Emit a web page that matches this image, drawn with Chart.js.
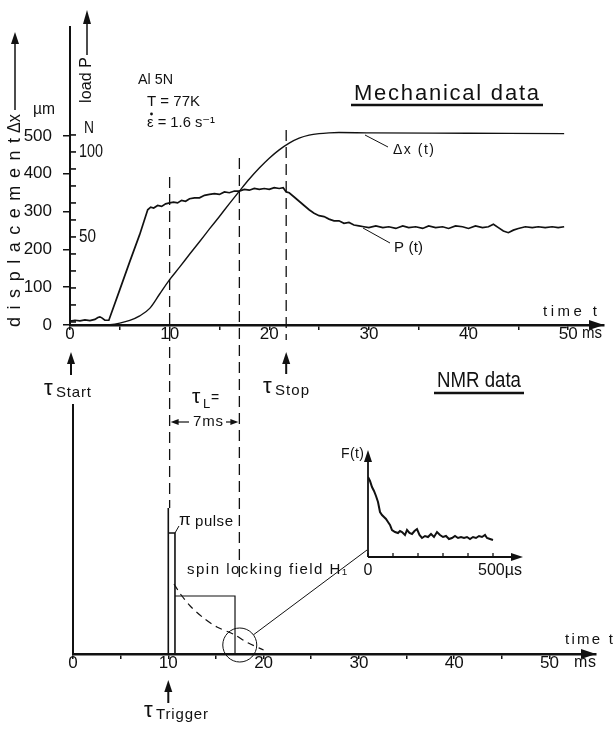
<!DOCTYPE html>
<html>
<head>
<meta charset="utf-8">
<title>Mechanical and NMR data</title>
<script src="https://cdn.jsdelivr.net/npm/chart.js@4.4.1/dist/chart.umd.min.js"></script>
<style>
  body { margin: 0; background: #fff; }
  #figure { position: relative; width: 614px; height: 731px; }
  #figure canvas { position: absolute; left: 0; top: 0; }
</style>
</head>
<body>
<div id="figure">
  <canvas id="mechanical" width="614" height="731"></canvas>
  <canvas id="nmr" width="614" height="731"></canvas>
  <canvas id="fid" width="614" height="731"></canvas>
</div>
<script>
const FONT = '"Liberation Sans Narrow", "Liberation Sans", "DejaVu Sans", sans-serif';
const INK = '#111';

// mechanical data (top panel), time in ms
const dispTime = [0, 3, 4, 5, 6, 7, 8, 9, 10, 11, 12, 13, 14, 15, 16, 17, 18, 19, 20, 21, 22, 23, 24, 25, 26, 27, 30, 40, 49.6];
const dispValues = [0, 0, 1, 5, 12, 24, 44, 82, 120, 153, 187, 220, 254, 287, 321, 354, 386, 415, 441, 463, 481, 494, 502, 506, 508, 509, 508, 507, 506];

const loadTime = [0, 0.5, 1, 1.5, 2, 2.5, 2.8, 3, 3.2, 3.5,
  3.9, 5, 6, 7, 7.8, 8.1, 8.4, 8.8, 9.2, 9.6,
  10, 10.4, 10.8, 11.2, 11.6, 12, 12.5, 13, 13.5, 14,
  14.5, 15, 15.5, 16, 16.5, 17, 17.5, 18, 18.5, 19,
  19.5, 20, 20.5, 21, 21.4, 21.7, 22, 22.5, 23, 23.5,
  24, 24.5, 25, 25.5, 26, 26.5, 27, 27.5, 28, 28.5,
  29, 29.5, 30, 30.7, 31.4, 32, 32.7, 33.4, 34, 34.7,
  35.4, 36, 36.7, 37.4, 38, 38.7, 39.4, 40, 40.7, 41.4,
  42, 42.5, 43, 43.5, 44, 44.5, 45, 45.7, 46.4, 47,
  47.7, 48.4, 49, 49.6];
const loadValues = [0.5, 1, 0.6, 1.2, 0.8, 1.5, 2.6, 3, 2.4, 1,
  1, 19, 35.5, 51.5, 66, 67.5, 67, 68.5, 68, 69.5,
  70, 70.5, 70, 71.5, 71, 72.5, 73, 73, 74.5, 75,
  75.5, 75, 76.5, 76, 77, 77, 78, 77.5, 78.5, 78,
  78.5, 78, 79, 78.5, 79, 76.5, 76, 73.5, 71, 68.5,
  66, 64, 62.5, 62, 60.5, 59.5, 59.5, 58, 58.5, 57,
  56.5, 56, 55.5, 56.5, 55.5, 56, 55, 56.5, 55.5, 56,
  55, 56.5, 55.5, 56, 55, 56.5, 56, 55, 56.5, 55.5,
  56, 57.5, 55.5, 53.5, 52.5, 54, 55, 56, 55.5, 56,
  55.5, 56, 55.5, 56];

const timeTicks = [0, 5, 10, 15, 20, 25, 30, 35, 40, 45, 50];
const dispTicks = [0, 100, 200, 300, 400, 500];
const loadTicks = [0, 10, 20, 30, 40, 50, 60, 70, 80, 90, 100, 110];
const loadLabels = [50, 100];
const markerTimes = [10, 17, 21.7];

// NMR data (bottom panel), level in arbitrary units
const pulseTime = [10, 10, 10, 10.7, 10.7];
const pulseLevel = [0, 146, 121, 121, 0];
const lockTime = [10.7, 17, 17];
const lockLevel = [58, 58, 0];
const decayTime = [10.6, 11.2, 12.3, 13.7, 15.1, 16.8, 18.4, 20.0];
const decayLevel = [70, 61, 48, 36, 27, 20, 11, 4];
const spotTime = [17.5];
const spotLevel = [9];

// F(t) inset, time in µs
const fidTime = [0, 8, 16, 24, 32, 40, 48, 56, 64, 72,
  80, 88, 96, 108, 120, 128, 136, 148, 156, 166,
  176, 186, 196, 206, 216, 228, 240, 252, 264, 276,
  288, 300, 312, 324, 336, 348, 360, 372, 384, 396,
  408, 420, 432, 444, 456, 468, 476, 488, 500];
const fidValues = [80, 76, 70, 66, 61, 55, 45, 42, 40, 38,
  35, 32, 27, 25, 24, 26, 25, 22, 27, 24,
  23, 26, 28, 22, 19, 21, 20, 23, 20, 25,
  22, 20, 21, 18, 19, 21, 19, 20, 19, 20,
  18, 20, 19, 21, 20, 22, 19, 18, 17];
const fidTicks = [0, 100, 200, 300, 400, 500];

Chart.defaults.font.family = FONT;
Chart.defaults.color = INK;

const pts = (xs, ys) => xs.map((v, i) => ({ x: v, y: ys[i] }));

function line(ctx, x1, y1, x2, y2) {
  ctx.beginPath();
  ctx.moveTo(x1, y1);
  ctx.lineTo(x2, y2);
  ctx.stroke();
}

function arrow(ctx, x1, y1, x2, y2, len = 12, half = 4) {
  const a = Math.atan2(y2 - y1, x2 - x1), c = Math.cos(a), s = Math.sin(a);
  line(ctx, x1, y1, x2 - c * len * 0.6, y2 - s * len * 0.6);
  ctx.beginPath();
  ctx.moveTo(x2, y2);
  ctx.lineTo(x2 - c * len - s * half, y2 - s * len + c * half);
  ctx.lineTo(x2 - c * len + s * half, y2 - s * len - c * half);
  ctx.closePath();
  ctx.fill();
}

// draws text from `left`, spread or squeezed to `width` when given
function text(ctx, str, left, cy, width, size) {
  ctx.font = size + 'px ' + FONT;
  ctx.textAlign = 'left';
  ctx.textBaseline = 'middle';
  ctx.letterSpacing = '0px';
  const w = ctx.measureText(str).width;
  const n = [...str].length;
  ctx.save();
  ctx.translate(left, cy);
  if (width && w < width && n > 1) ctx.letterSpacing = ((width - w) / (n - 1)) + 'px';
  else if (width && w > width) ctx.scale(width / w, 1);
  ctx.fillText(str, 0, 0);
  ctx.restore();
}

function tau(ctx, left, cy, sub, subWidth) {
  text(ctx, 'τ', left, cy, null, 22);
  text(ctx, sub, left + 12, cy + 4, subWidth, 15);
}

const mechanicalDecor = {
  id: 'mechanicalDecor',
  afterDraw(chart) {
    const { ctx, scales: { x, y, load } } = chart;
    const x0 = x.left, y0 = y.bottom;
    ctx.save();
    ctx.fillStyle = INK;
    ctx.strokeStyle = INK;

    // time axis arrow
    ctx.lineWidth = 2;
    arrow(ctx, x.right - 16, y0, x.right, y0, 15, 5);

    // load scale on the right of the axis
    ctx.lineWidth = 1.6;
    loadTicks.forEach(v => {
      const py = load.getPixelForValue(v);
      line(ctx, x0, py, x0 + 6, py);
    });
    loadLabels.forEach(v => text(ctx, String(v), x0 + 9, load.getPixelForValue(v), v < 100 ? 17 : 24, 18));

    // dashed time markers
    const spans = [[177, 508], [158, 581], [130, 340]];
    ctx.lineWidth = 1.3;
    ctx.setLineDash([11, 6]);
    markerTimes.forEach((t, i) => {
      const px = x.getPixelForValue(t);
      line(ctx, px, spans[i][0], px, spans[i][1]);
    });
    ctx.setLineDash([]);

    // axis titles
    ctx.save();
    ctx.translate(15, 327);
    ctx.rotate(-Math.PI / 2);
    text(ctx, 'displacement', 0, 0, 189, 18);
    text(ctx, 'Δx', 194, 0, 19, 18);
    ctx.restore();
    ctx.lineWidth = 1.5;
    arrow(ctx, 15, 110, 15, 32, 12, 4);

    ctx.save();
    ctx.translate(87, 103);
    ctx.rotate(-Math.PI / 2);
    text(ctx, 'load P', 0, 0, 46, 16);
    ctx.restore();
    arrow(ctx, 87, 55, 87, 10, 14, 4);

    text(ctx, 'µm', 33, 110, 22, 16);
    text(ctx, 'N', 84, 128, 10, 17);

    // sample conditions
    text(ctx, 'Al 5N', 138, 80, 35, 15);
    text(ctx, 'T = 77K', 147, 102, 53, 15);
    text(ctx, 'ε = 1.6 s⁻¹', 147, 123, 68, 15);
    ctx.beginPath();
    ctx.arc(151.5, 114, 1.4, 0, Math.PI * 2);
    ctx.fill();

    text(ctx, 'Mechanical data', 354, 94, 185, 22);
    ctx.lineWidth = 2.5;
    line(ctx, 351, 105, 543, 105);

    // curve labels
    ctx.lineWidth = 1;
    line(ctx, 365, 135, 388, 147);
    text(ctx, 'Δx (t)', 393, 150, 41, 14);
    line(ctx, 363, 228, 390, 243);
    text(ctx, 'P (t)', 394, 248, 29, 15);

    text(ctx, 'time t', 543, 312, 54, 15);
    text(ctx, 'ms', 582, 334, 20, 16);

    // tau_L between trigger and tau_L markers
    const a = x.getPixelForValue(markerTimes[0]), b = x.getPixelForValue(markerTimes[1]);
    text(ctx, 'τ', 192, 397, null, 21);
    text(ctx, 'L', 203, 404, null, 13);
    text(ctx, '=', 211, 398, null, 14);
    text(ctx, '7ms', 193, 422, 30, 15);
    ctx.lineWidth = 1.2;
    arrow(ctx, 189, 422, a + 1, 422, 8, 3);
    arrow(ctx, 226, 422, b - 1, 422, 8, 3);

    // tau_Stop
    const s = x.getPixelForValue(markerTimes[2]);
    ctx.lineWidth = 2;
    arrow(ctx, s, 374, s, 352, 12, 4);
    tau(ctx, 263, 387, 'Stop', 34);
    ctx.restore();
  }
};

new Chart(document.getElementById('mechanical'), {
  type: 'scatter',
  data: {
    datasets: [
      {
        label: 'Δx (t)',
        data: pts(dispTime, dispValues),
        yAxisID: 'y',
        showLine: true,
        borderColor: INK,
        borderWidth: 1.4,
        pointRadius: 0,
        cubicInterpolationMode: 'monotone',
      },
      {
        label: 'P (t)',
        data: pts(loadTime, loadValues),
        yAxisID: 'load',
        showLine: true,
        borderColor: INK,
        borderWidth: 1.7,
        pointRadius: 0,
      },
    ],
  },
  options: {
    responsive: false,
    animation: false,
    events: [],
    layout: { padding: { top: 27, right: 10, left: 0, bottom: 0 } },
    plugins: { legend: { display: false }, tooltip: { enabled: false } },
    scales: {
      x: {
        type: 'linear',
        min: 0,
        max: 53.6,
        afterBuildTicks: s => { s.ticks = timeTicks.map(v => ({ value: v })); },
        afterFit: s => { s.height = 731 - 325; },
        ticks: { callback: v => (v % 10 === 0 ? String(v) : ''), padding: -6, maxRotation: 0, autoSkip: false, font: { size: 17 } },
        grid: { drawOnChartArea: false, tickLength: 5, color: INK, lineWidth: 1.5 },
        border: { color: INK, width: 2.5 },
      },
      y: {
        type: 'linear',
        position: 'left',
        min: 0,
        max: 788,
        afterBuildTicks: s => { s.ticks = dispTicks.map(v => ({ value: v })); },
        afterFit: s => { s.width = 70; },
        ticks: { padding: 11, font: { size: 17 } },
        grid: { drawOnChartArea: false, tickLength: 7, color: INK, lineWidth: 1.5 },
        border: { color: INK, width: 2 },
      },
      load: { type: 'linear', position: 'left', display: false, min: -1.8, max: 173.5 },
    },
  },
  plugins: [mechanicalDecor],
});

const nmrDecor = {
  id: 'nmrDecor',
  afterDraw(chart) {
    const { ctx, scales: { x, y } } = chart;
    const y0 = y.bottom;
    ctx.save();
    ctx.fillStyle = INK;
    ctx.strokeStyle = INK;

    ctx.lineWidth = 2;
    arrow(ctx, x.right - 16, y0, x.right, y0, 15, 5);

    // tau_Start
    arrow(ctx, 71, 375, 71, 352, 12, 4);
    tau(ctx, 44, 389, 'Start', 35);

    text(ctx, 'NMR data', 437, 381, 84, 22);
    ctx.lineWidth = 2.5;
    line(ctx, 434, 393, 524, 393);

    // pi pulse label
    ctx.lineWidth = 1;
    const p = x.getPixelForValue(pulseTime[3]);
    line(ctx, p, y.getPixelForValue(pulseLevel[2]), p + 4, 526);
    text(ctx, 'π', 179, 520, null, 17);
    text(ctx, 'pulse', 195, 522, 38, 15);

    text(ctx, 'spin locking field H₁', 187, 570, 160, 15);

    // leader from the circled decay to the inset
    const cx = x.getPixelForValue(spotTime[0]), cy = y.getPixelForValue(spotLevel[0]);
    const tx = 367, ty = 550, d = Math.hypot(tx - cx, ty - cy);
    line(ctx, cx + (tx - cx) / d * 17, cy + (ty - cy) / d * 17, tx, ty);

    text(ctx, 'time t', 565, 640, 48, 15);
    text(ctx, 'ms', 574, 663, 22, 16);

    // tau_Trigger
    const t = x.getPixelForValue(markerTimes[0]);
    ctx.lineWidth = 2;
    arrow(ctx, t, 703, t, 680, 12, 4);
    tau(ctx, 144, 711, 'Trigger', 52);
    ctx.restore();
  }
};

new Chart(document.getElementById('nmr'), {
  type: 'scatter',
  data: {
    datasets: [
      { label: 'π pulse', data: pts(pulseTime, pulseLevel), showLine: true, borderColor: INK, borderWidth: 1.6, pointRadius: 0 },
      { label: 'spin locking field', data: pts(lockTime, lockLevel), showLine: true, borderColor: INK, borderWidth: 1.2, pointRadius: 0 },
      { label: 'decay', data: pts(decayTime, decayLevel), showLine: true, borderColor: INK, borderWidth: 1.2, borderDash: [7, 5], pointRadius: 0, tension: 0.3 },
      {
        label: 'signal',
        data: pts(spotTime, spotLevel),
        showLine: false,
        pointRadius: 17,
        pointBorderWidth: 1,
        pointBorderColor: INK,
        pointBackgroundColor: 'rgba(0,0,0,0)',
        clip: false,
      },
    ],
  },
  options: {
    responsive: false,
    animation: false,
    events: [],
    layout: { padding: { top: 405, right: 1, left: 0, bottom: 0 } },
    plugins: { legend: { display: false }, tooltip: { enabled: false } },
    scales: {
      x: {
        type: 'linear',
        min: 0,
        max: 54.88,
        afterBuildTicks: s => { s.ticks = timeTicks.map(v => ({ value: v })); },
        afterFit: s => { s.height = 731 - 654; },
        ticks: { callback: v => (v % 10 === 0 ? String(v) : ''), padding: -6, maxRotation: 0, autoSkip: false, font: { size: 17 } },
        grid: { drawOnChartArea: false, tickLength: 5, color: INK, lineWidth: 1.5 },
        border: { color: INK, width: 2.5 },
      },
      y: {
        type: 'linear',
        min: 0,
        max: 249,
        afterFit: s => { s.width = 73; },
        ticks: { display: false },
        grid: { drawOnChartArea: false, drawTicks: false },
        border: { color: INK, width: 2 },
      },
    },
  },
  plugins: [nmrDecor],
});

const fidDecor = {
  id: 'fidDecor',
  afterDraw(chart) {
    const { ctx, scales: { x, y } } = chart;
    const ox = x.getPixelForValue(0), oy = y.getPixelForValue(0);
    ctx.save();
    ctx.fillStyle = INK;
    ctx.strokeStyle = INK;
    ctx.lineWidth = 1.8;
    arrow(ctx, ox, oy, ox, y.top, 12, 4);
    arrow(ctx, ox, oy, x.right, oy, 12, 4);
    ctx.lineWidth = 1.3;
    fidTicks.forEach(v => {
      const px = x.getPixelForValue(v);
      line(ctx, px, oy, px, oy - 4);
    });
    ctx.font = '16px ' + FONT;
    ctx.textAlign = 'center';
    ctx.textBaseline = 'middle';
    ctx.fillText('0', ox, 571);
    text(ctx, '500µs', 478, 571, 44, 16);
    text(ctx, 'F(t)', 341, 454, 23, 14);
    ctx.restore();
  }
};

new Chart(document.getElementById('fid'), {
  type: 'scatter',
  data: {
    datasets: [
      { label: 'F(t)', data: pts(fidTime, fidValues), showLine: true, borderColor: INK, borderWidth: 2, pointRadius: 0 },
    ],
  },
  options: {
    responsive: false,
    animation: false,
    events: [],
    layout: { padding: { top: 450, left: 368, right: 614 - 523, bottom: 731 - 557 } },
    plugins: { legend: { display: false }, tooltip: { enabled: false } },
    scales: {
      x: { type: 'linear', display: false, min: 0, max: 620 },
      y: { type: 'linear', display: false, min: 0, max: 107 },
    },
  },
  plugins: [fidDecor],
});
</script>
</body>
</html>
